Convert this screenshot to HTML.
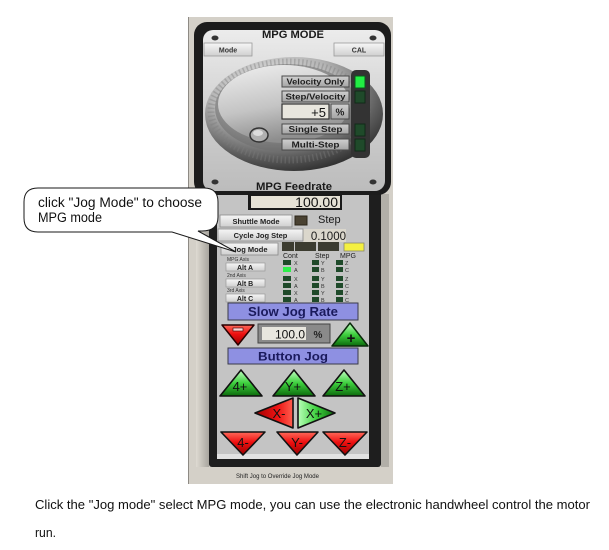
<!DOCTYPE html>
<html><head><meta charset="utf-8"><style>
html,body{margin:0;padding:0;background:#fff;}
svg{display:block;}
text{font-family:"Liberation Sans",Arial,sans-serif;}
</style></head><body>
<svg width="609" height="550" viewBox="0 0 609 550" xmlns="http://www.w3.org/2000/svg">
<defs>
  <linearGradient id="panelG" x1="0" y1="0" x2="0" y2="1">
    <stop offset="0" stop-color="#ececec"/>
    <stop offset="0.5" stop-color="#d0d0d0"/>
    <stop offset="1" stop-color="#bcbcbc"/>
  </linearGradient>
  <radialGradient id="dialOuter" cx="0.38" cy="0.28" r="0.8">
    <stop offset="0" stop-color="#ededed"/>
    <stop offset="0.45" stop-color="#b4b4b4"/>
    <stop offset="0.75" stop-color="#5e5e5e"/>
    <stop offset="1" stop-color="#222"/>
  </radialGradient>
  <linearGradient id="faceG" x1="0" y1="0" x2="0.3" y2="1">
    <stop offset="0" stop-color="#f0f0f0"/>
    <stop offset="0.6" stop-color="#c4c4c4"/>
    <stop offset="1" stop-color="#8e8e8e"/>
  </linearGradient>
  <linearGradient id="btnG" x1="0" y1="0" x2="0" y2="1">
    <stop offset="0" stop-color="#d0d0d0"/>
    <stop offset="1" stop-color="#a4a4a4"/>
  </linearGradient>
  <linearGradient id="lbtnG" x1="0" y1="0" x2="0" y2="1">
    <stop offset="0" stop-color="#f6f6f6"/>
    <stop offset="1" stop-color="#cfcfcf"/>
  </linearGradient>
  <linearGradient id="redG" x1="0" y1="0" x2="0" y2="1">
    <stop offset="0" stop-color="#ff6a5a"/>
    <stop offset="0.45" stop-color="#ee1010"/>
    <stop offset="1" stop-color="#9a0000"/>
  </linearGradient>
  <linearGradient id="redH" x1="0" y1="0" x2="1" y2="0">
    <stop offset="0" stop-color="#a00000"/>
    <stop offset="0.6" stop-color="#ee1414"/>
    <stop offset="1" stop-color="#ff6050"/>
  </linearGradient>
  <linearGradient id="greenG" x1="0" y1="0" x2="0" y2="1">
    <stop offset="0" stop-color="#c4ffc4"/>
    <stop offset="0.5" stop-color="#3ed03e"/>
    <stop offset="1" stop-color="#0c6a0c"/>
  </linearGradient>
  <linearGradient id="greenH" x1="0" y1="0" x2="1" y2="0">
    <stop offset="0" stop-color="#b8ffb8"/>
    <stop offset="0.5" stop-color="#3ed03e"/>
    <stop offset="1" stop-color="#0c6a0c"/>
  </linearGradient>
  <linearGradient id="leftShade" x1="0" y1="0" x2="1" y2="0">
    <stop offset="0" stop-color="#dedad2"/>
    <stop offset="1" stop-color="#a8a59e"/>
  </linearGradient>
</defs>

<rect width="609" height="550" fill="#fff"/>

<!-- app grey background -->
<rect x="188" y="17" width="205" height="467" fill="#d4d0c8"/>
<line x1="188.5" y1="17" x2="188.5" y2="484" stroke="#8e8a84"/>
<rect x="196" y="194" width="13" height="273" fill="url(#leftShade)"/>
<rect x="381" y="194" width="8" height="273" fill="#b2afa8"/>

<!-- lower frame -->
<rect x="209" y="188" width="172" height="279" rx="3" fill="#1e1e1e"/>
<rect x="217" y="192" width="152" height="267" fill="#c4c4c4"/>
<rect x="217" y="454" width="152" height="5" fill="#e2e2e2"/>

<!-- upper frame -->
<rect x="194" y="22" width="197" height="173" rx="13" fill="#1c1c1c"/>
<rect x="203" y="30" width="182" height="161" rx="10" fill="url(#panelG)"/>

<!-- dial -->
<ellipse cx="294" cy="114" rx="89" ry="57" fill="url(#dialOuter)"/>
<ellipse cx="289" cy="111" rx="78" ry="49" fill="none" stroke="#7c7c7c" stroke-width="7" stroke-dasharray="1.5 2.5" opacity="0.4"/>
<ellipse cx="287" cy="108" rx="72" ry="44" fill="#6e6e6e" opacity="0.55"/>
<ellipse cx="284" cy="104" rx="66" ry="39" fill="url(#faceG)"/>
<rect x="351" y="70" width="19" height="88" rx="5" fill="#333"/>
<ellipse cx="259" cy="135" rx="9" ry="7" fill="#b0b0b0" stroke="#333" stroke-width="1.5"/>
<ellipse cx="258" cy="133" rx="5" ry="3" fill="#dcdcdc"/>

<!-- screws -->
<g fill="#333">
  <ellipse cx="215" cy="38" rx="3.5" ry="2.5"/>
  <ellipse cx="373" cy="38" rx="3.5" ry="2.5"/>
  <ellipse cx="215" cy="182" rx="3.5" ry="2.5"/>
  <ellipse cx="373" cy="182" rx="3.5" ry="2.5"/>
</g>

<text x="293" y="38" font-size="11" font-weight="bold" fill="#1a1a1a" text-anchor="middle" textLength="62" lengthAdjust="spacingAndGlyphs">MPG MODE</text>

<!-- Mode / CAL -->
<rect x="204" y="43" width="48" height="13" fill="url(#lbtnG)" stroke="#9a9a9a" stroke-width="0.8"/>
<text x="228" y="52.5" font-size="7" font-weight="bold" fill="#333" text-anchor="middle">Mode</text>
<rect x="334" y="43" width="50" height="13" fill="url(#lbtnG)" stroke="#9a9a9a" stroke-width="0.8"/>
<text x="359" y="52.5" font-size="7" font-weight="bold" fill="#333" text-anchor="middle">CAL</text>

<!-- upper buttons -->
<g stroke="#4a4a4a" stroke-width="1">
  <rect x="282" y="76" width="67" height="11" fill="url(#btnG)"/>
  <rect x="282" y="91" width="67" height="11" fill="url(#btnG)"/>
  <rect x="282" y="124" width="67" height="10" fill="url(#btnG)"/>
  <rect x="282" y="139" width="67" height="11" fill="url(#btnG)"/>
</g>
<g font-size="8.5" font-weight="bold" fill="#1e1e1e" text-anchor="middle">
  <text x="315.5" y="84.5" textLength="58" lengthAdjust="spacingAndGlyphs">Velocity Only</text>
  <text x="315.5" y="99.5" textLength="60" lengthAdjust="spacingAndGlyphs">Step/Velocity</text>
  <text x="315.5" y="132" textLength="54" lengthAdjust="spacingAndGlyphs">Single Step</text>
  <text x="315.5" y="147.5" textLength="48" lengthAdjust="spacingAndGlyphs">Multi-Step</text>
</g>
<rect x="282" y="104" width="47" height="15" fill="#e8e6de" stroke="#333" stroke-width="1.2"/>
<text x="326" y="117" font-size="13" fill="#111" text-anchor="end">+5</text>
<rect x="331" y="104" width="18" height="15" fill="url(#btnG)" stroke="#4a4a4a"/>
<text x="340" y="115.5" font-size="10" font-weight="bold" fill="#222" text-anchor="middle">%</text>

<!-- LEDs upper -->
<rect x="355" y="76" width="10" height="12" fill="#22ee44" stroke="#0b5a1b" stroke-width="1"/>
<rect x="355" y="91" width="10" height="12" fill="#1f4a2a" stroke="#122a18"/>
<rect x="355" y="124" width="10" height="12" fill="#1f4a2a" stroke="#122a18"/>
<rect x="355" y="139" width="10" height="12" fill="#1f4a2a" stroke="#122a18"/>

<text x="294" y="190" font-size="11" font-weight="bold" fill="#1a1a1a" text-anchor="middle" textLength="76" lengthAdjust="spacingAndGlyphs">MPG Feedrate</text>

<!-- feedrate field -->
<rect x="248" y="194" width="94" height="16" fill="#1a1a1a"/>
<rect x="251" y="196" width="89" height="12" fill="#e6e2d6"/>
<text x="338" y="207" font-size="14" fill="#111" text-anchor="end">100.00</text>

<!-- shuttle / cycle -->
<rect x="220" y="215" width="72" height="12" fill="url(#lbtnG)" stroke="#8a8a8a" stroke-width="0.8"/>
<text x="256" y="224" font-size="7.5" font-weight="bold" fill="#222" text-anchor="middle">Shuttle Mode</text>
<rect x="295" y="216" width="12" height="9" fill="#4a4232" stroke="#2a2418"/>
<text x="318" y="223" font-size="11" fill="#1a1a1a">Step</text>

<rect x="303" y="229" width="43" height="13" fill="#dbd7cc"/>
<rect x="218" y="229" width="85" height="12" fill="url(#lbtnG)" stroke="#8a8a8a" stroke-width="0.8"/>
<text x="260.5" y="238" font-size="7.5" font-weight="bold" fill="#222" text-anchor="middle">Cycle Jog Step</text>
<text x="346" y="240" font-size="11.5" fill="#1a1a1a" text-anchor="end">0.1000</text>

<rect x="221" y="243" width="57" height="12" fill="url(#lbtnG)" stroke="#8a8a8a" stroke-width="0.8"/>
<text x="250" y="252" font-size="7.5" font-weight="bold" fill="#222" text-anchor="middle">Jog Mode</text>

<rect x="282" y="242" width="12" height="9" fill="#3c3c30"/>
<rect x="295" y="242" width="21" height="9" fill="#3c3c30"/>
<rect x="318" y="242" width="21" height="9" fill="#3c3c30"/>
<rect x="344" y="243" width="20" height="8" fill="#f4f040" stroke="#8a8a6a" stroke-width="0.8"/>

<g font-size="7" fill="#222">
  <text x="283" y="258">Cont</text>
  <text x="315" y="258">Step</text>
  <text x="340" y="258">MPG</text>
</g>
<g font-size="5" fill="#333">
  <text x="227" y="261">MPG Axis</text>
  <text x="227" y="277">2nd Axis</text>
  <text x="227" y="292">3rd Axis</text>
</g>
<g fill="url(#lbtnG)" stroke="#9a9a9a" stroke-width="0.7">
  <rect x="226" y="263" width="39" height="8"/>
  <rect x="226" y="279" width="39" height="8"/>
  <rect x="226" y="294" width="39" height="8"/>
</g>
<g font-size="7" font-weight="bold" fill="#222" text-anchor="middle">
  <text x="245" y="270">Alt A</text>
  <text x="245" y="286">Alt B</text>
  <text x="245" y="301">Alt C</text>
</g>

<!-- LED grid -->
<g fill="#1f4a2a">
  <rect x="283" y="260" width="8" height="5"/>
  <rect x="283" y="276" width="8" height="5"/><rect x="283" y="283" width="8" height="5"/>
  <rect x="283" y="290" width="8" height="5"/><rect x="283" y="297" width="8" height="5"/>
  <rect x="312" y="260" width="7" height="5"/><rect x="312" y="267" width="7" height="5"/>
  <rect x="312" y="276" width="7" height="5"/><rect x="312" y="283" width="7" height="5"/>
  <rect x="312" y="290" width="7" height="5"/><rect x="312" y="297" width="7" height="5"/>
  <rect x="336" y="260" width="7" height="5"/><rect x="336" y="267" width="7" height="5"/>
  <rect x="336" y="276" width="7" height="5"/><rect x="336" y="283" width="7" height="5"/>
  <rect x="336" y="290" width="7" height="5"/><rect x="336" y="297" width="7" height="5"/>
</g>
<rect x="283" y="267" width="8" height="5" fill="#2cf04a"/>
<g font-size="5.5" fill="#333">
  <text x="294" y="265">X</text><text x="294" y="272">A</text>
  <text x="294" y="281">X</text><text x="294" y="288">A</text>
  <text x="294" y="295">X</text><text x="294" y="302">A</text>
  <text x="321" y="265">Y</text><text x="321" y="272">B</text>
  <text x="321" y="281">Y</text><text x="321" y="288">B</text>
  <text x="321" y="295">Y</text><text x="321" y="302">B</text>
  <text x="345" y="265">Z</text><text x="345" y="272">C</text>
  <text x="345" y="281">Z</text><text x="345" y="288">C</text>
  <text x="345" y="295">Z</text><text x="345" y="302">C</text>
</g>

<!-- Slow Jog Rate -->
<rect x="228" y="303" width="130" height="17" fill="#8e90e2" stroke="#3a3a4a" stroke-width="1"/>
<text x="293" y="316" font-size="13" font-weight="bold" fill="#1a1a5c" text-anchor="middle" textLength="90" lengthAdjust="spacingAndGlyphs">Slow Jog Rate</text>

<!-- minus / field / plus -->
<path d="M222,325 L254,325 L238,345 Z" fill="url(#redG)" stroke="#2a0000" stroke-width="1.5" stroke-linejoin="round"/>
<rect x="233" y="328" width="10" height="3" fill="#ffd0d0" stroke="#300" stroke-width="0.6"/>
<rect x="258" y="324" width="72" height="19" fill="#8a8a8a" stroke="#444"/>
<rect x="262" y="327" width="44" height="13" fill="#e8e6de"/>
<text x="305" y="338.5" font-size="12" fill="#111" text-anchor="end">100.0</text>
<text x="318" y="338" font-size="10" font-weight="bold" fill="#222" text-anchor="middle">%</text>
<path d="M350,323 L368,346 L332,346 Z" fill="url(#greenG)" stroke="#0a2a0a" stroke-width="1.5" stroke-linejoin="round"/>
<text x="351" y="343" font-size="15" font-weight="bold" fill="#111" text-anchor="middle">+</text>

<!-- Button Jog -->
<rect x="228" y="348" width="130" height="16" fill="#8e90e2" stroke="#3a3a4a" stroke-width="1"/>
<text x="293" y="360.5" font-size="12" font-weight="bold" fill="#1a1a5c" text-anchor="middle" textLength="70" lengthAdjust="spacingAndGlyphs">Button Jog</text>

<!-- jog triangles -->
<g stroke="#111" stroke-width="1.6" stroke-linejoin="round">
  <path d="M241,370 L262,396 L220,396 Z" fill="url(#greenG)"/>
  <path d="M294,370 L315,396 L273,396 Z" fill="url(#greenG)"/>
  <path d="M344,370 L365,396 L323,396 Z" fill="url(#greenG)"/>
  <path d="M255,413 L293,398 L293,428 Z" fill="url(#redH)"/>
  <path d="M335,413 L298,398 L298,428 Z" fill="url(#greenH)"/>
  <path d="M221,432 L265,432 L243,455 Z" fill="url(#redG)"/>
  <path d="M277,432 L318,432 L297,455 Z" fill="url(#redG)"/>
  <path d="M323,432 L367,432 L345,455 Z" fill="url(#redG)"/>
</g>
<g font-size="13" fill="#111" text-anchor="middle">
  <text x="240" y="391">4+</text>
  <text x="293" y="391">Y+</text>
  <text x="343" y="391">Z+</text>
  <text x="279" y="418">X-</text>
  <text x="314" y="418">X+</text>
  <text x="243" y="447">4-</text>
  <text x="297" y="447">Y-</text>
  <text x="345" y="447">Z-</text>
</g>

<text x="236" y="478" font-size="6.5" fill="#222" textLength="83" lengthAdjust="spacingAndGlyphs">Shift Jog to Override Jog Mode</text>

<!-- callout -->
<path d="M38,188 H204 Q218,188 218,202 V217 Q218,231 202,231 L198,231 L236,252 L172,232 H38 Q24,232 24,218 V202 Q24,188 38,188 Z" fill="#fff" stroke="#1a1a1a" stroke-width="1"/>
<text x="38" y="207" font-size="13.5" fill="#111" textLength="164" lengthAdjust="spacingAndGlyphs">click "Jog Mode" to choose</text>
<text x="38" y="222" font-size="13.5" fill="#111" textLength="64" lengthAdjust="spacingAndGlyphs">MPG mode</text>

<!-- bottom caption -->
<text x="35" y="509" font-size="13" fill="#111" textLength="555" lengthAdjust="spacingAndGlyphs">Click the "Jog mode" select MPG mode, you can use the electronic handwheel control the motor</text>
<text x="35" y="537" font-size="13" fill="#111" textLength="21" lengthAdjust="spacingAndGlyphs">run.</text>
</svg>
</body></html>
